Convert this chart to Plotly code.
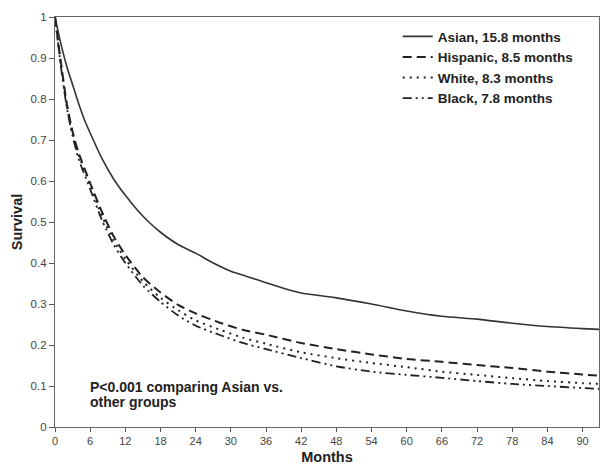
import plotly.graph_objects as go

months_asian = [0, 1, 2, 3, 4, 5, 6, 8, 10, 12, 14, 16, 18, 21, 24, 27, 30, 33, 36, 40, 42, 48, 54, 60, 66, 72, 78, 84, 90, 93]
surv_asian = [1.0, 0.935, 0.88, 0.835, 0.79, 0.75, 0.717, 0.655, 0.605, 0.565, 0.53, 0.50, 0.475, 0.445, 0.424, 0.40, 0.38, 0.366, 0.352, 0.334, 0.327, 0.315, 0.30, 0.283, 0.27, 0.263, 0.253, 0.245, 0.24, 0.238]

months_grp = [0, 1, 2, 3, 4, 6, 8, 10, 12, 15, 18, 21, 24, 28, 32, 36, 42, 48, 54, 60, 66, 72, 78, 84, 90, 93]
surv_hispanic = [1.0, 0.89, 0.79, 0.72, 0.67, 0.595, 0.525, 0.465, 0.42, 0.365, 0.328, 0.298, 0.277, 0.255, 0.237, 0.225, 0.205, 0.19, 0.177, 0.166, 0.159, 0.151, 0.144, 0.135, 0.128, 0.125]
surv_white = [1.0, 0.885, 0.785, 0.715, 0.665, 0.59, 0.515, 0.455, 0.41, 0.355, 0.315, 0.285, 0.26, 0.238, 0.218, 0.203, 0.182, 0.168, 0.156, 0.146, 0.135, 0.127, 0.119, 0.112, 0.107, 0.105]
surv_black = [1.0, 0.88, 0.78, 0.71, 0.655, 0.58, 0.505, 0.445, 0.40, 0.345, 0.305, 0.272, 0.247, 0.225, 0.205, 0.19, 0.168, 0.148, 0.135, 0.127, 0.12, 0.112, 0.105, 0.10, 0.095, 0.093]

series_names = ["Asian, 15.8 months", "Hispanic, 8.5 months", "White, 8.3 months", "Black, 7.8 months"]

x_ticks = list(range(0, 91, 6))
y_ticks = [0, 0.1, 0.2, 0.3, 0.4, 0.5, 0.6, 0.7, 0.8, 0.9, 1]
y_ticklabels = ["0", "0.1", "0.2", "0.3", "0.4", "0.5", "0.6", "0.7", "0.8", "0.9", "1"]

annotation_lines = ["P<0.001 comparing Asian vs.", "other groups"]

FONT = "Liberation Sans, Arial"

fig = go.Figure()
fig.add_trace(go.Scatter(x=months_asian, y=surv_asian, mode="lines", name=series_names[0],
                         line=dict(color="#333333", width=1.6, dash="solid", shape="spline", smoothing=0.6)))
fig.add_trace(go.Scatter(x=months_grp, y=surv_hispanic, mode="lines", name=series_names[1],
                         line=dict(color="#222222", width=2, dash="9px,5px", shape="spline", smoothing=0.6)))
fig.add_trace(go.Scatter(x=months_grp, y=surv_white, mode="lines", name=series_names[2],
                         line=dict(color="#222222", width=2, dash="2px,5px", shape="spline", smoothing=0.6)))
fig.add_trace(go.Scatter(x=months_grp, y=surv_black, mode="lines", name=series_names[3],
                         line=dict(color="#222222", width=1.8, dash="9px,4px,2px,4px,2px,4px",
                                   shape="spline", smoothing=0.6)))

for i, txt in enumerate(annotation_lines):
    fig.add_annotation(x=0.061, y=0.097 - i * 0.035, xref="paper", yref="paper", text=txt,
                       showarrow=False, xanchor="left", yanchor="middle", align="left",
                       font=dict(family=FONT, size=14, color="#222222", weight="bold"))

fig.update_layout(
    width=600, height=465,
    margin=dict(l=55, r=1, t=17, b=38),
    paper_bgcolor="white", plot_bgcolor="white",
    font=dict(family=FONT, color="#333333"),
    legend=dict(x=0.63, y=0.99, xanchor="left", yanchor="top",
                bgcolor="rgba(0,0,0,0)", borderwidth=0, tracegroupgap=0,
                itemwidth=30,
                font=dict(family=FONT, size=13.5, color="#222222", weight="bold")),
    xaxis=dict(range=[0, 92.8], tickvals=x_ticks, ticks="outside", ticklen=4, tickcolor="#555555",
               showline=True, linecolor="#666666", linewidth=1.2, mirror=True, showgrid=False,
               zeroline=False, tickfont=dict(size=11, color="#444444"),
               title=dict(text="Months", standoff=5,
                          font=dict(size=14.5, color="#222222", weight="bold"))),
    yaxis=dict(range=[0, 1], tickvals=y_ticks, ticktext=y_ticklabels, ticks="outside", ticklen=5,
               tickcolor="#555555", showline=True, linecolor="#666666", linewidth=1.2, mirror=True,
               showgrid=False, zeroline=False, tickfont=dict(size=11.5, color="#444444"),
               title=dict(text="Survival", standoff=4,
                          font=dict(size=14.5, color="#222222", weight="bold"))),
)

fig.write_html("out.html")
